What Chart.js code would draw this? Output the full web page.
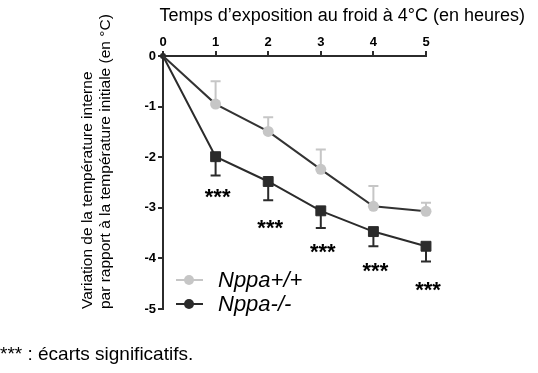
<!DOCTYPE html>
<html>
<head>
<meta charset="utf-8">
<script src="https://cdn.jsdelivr.net/npm/chart.js@4.4.0/dist/chart.umd.min.js"></script>
<style>
html, body { margin: 0; padding: 0; background: #fff; }
#wrap { width: 538px; height: 373px; }
</style>
</head>
<body>
<div id="wrap"><canvas id="chart"></canvas></div>
<script>
var hours = [0, 1, 2, 3, 4, 5]
var wildType = [0, -0.95, -1.49, -2.24, -2.97, -3.07]     // Nppa+/+
var wildTypeErr = [0, 0.45, 0.28, 0.39, 0.40, 0.17]        // barre vers le haut
var knockout = [0, -1.99, -2.48, -3.06, -3.47, -3.76]      // Nppa-/-
var knockoutErr = [0, 0.37, 0.37, 0.34, 0.29, 0.30]        // barre vers le bas
var yTicks = [0, -1, -2, -3, -4, -5]
var starsX = [1, 2, 3, 4, 5]
var starsY = [-2.71, -3.31, -3.79, -4.16, -4.55]
var seriesLabels = ['Nppa+/+', 'Nppa-/-']

var FONT = "Arial, 'Liberation Sans', sans-serif"
var LIGHT = '#c6c6c6'
var DARK = '#2b2b2b'

function toPoints(ys) {
    return hours.map(function (h, i) { return { x: h, y: ys[i] } })
}

// barres d'erreur (un seul côté)
var errorBars = {
    id: 'errorBars',
    beforeDatasetsDraw: function (chart) {
        var ctx = chart.ctx, xs = chart.scales.x, ys = chart.scales.y
        chart.data.datasets.forEach(function (ds) {
            ctx.save()
            ctx.strokeStyle = ds.errorColor
            ctx.lineWidth = 2
            ds.data.forEach(function (p, i) {
                var e = ds.errors[i]
                if (!e) return
                var px = xs.getPixelForValue(p.x)
                var y0 = ys.getPixelForValue(p.y)
                var y1 = ys.getPixelForValue(p.y + ds.errorDir * e)
                ctx.beginPath()
                ctx.moveTo(px, y0)
                ctx.lineTo(px, y1)
                ctx.moveTo(px - 5, y1)
                ctx.lineTo(px + 5, y1)
                ctx.stroke()
            })
            ctx.restore()
        })
    }
}

// *** sous la courbe Nppa-/-
var stars = {
    id: 'stars',
    afterDatasetsDraw: function (chart) {
        var ctx = chart.ctx, xs = chart.scales.x, ys = chart.scales.y
        ctx.save()
        ctx.fillStyle = '#000'
        ctx.font = 'bold 22px ' + FONT
        ctx.textAlign = 'center'
        ctx.textBaseline = 'middle'
        for (var i = 0; i < starsX.length; i++) {
            ctx.fillText('***', xs.getPixelForValue(starsX[i]) + 2, ys.getPixelForValue(starsY[i]) + 5)
        }
        ctx.restore()
    }
}

// légende dans la zone du graphique, en bas à gauche
var innerLegend = {
    id: 'innerLegend',
    afterDraw: function (chart) {
        var ctx = chart.ctx, area = chart.chartArea
        var x0 = area.left + 13
        var rowsY = [area.bottom - 29, area.bottom - 5]
        ctx.save()
        chart.data.datasets.forEach(function (ds, i) {
            var y = rowsY[i]
            ctx.strokeStyle = ds.legendColor
            ctx.fillStyle = ds.legendColor
            ctx.lineWidth = 2
            ctx.beginPath()
            ctx.moveTo(x0, y)
            ctx.lineTo(x0 + 27, y)
            ctx.stroke()
            ctx.beginPath()
            ctx.arc(x0 + 13, y, 5, 0, Math.PI * 2)
            ctx.fill()
            ctx.fillStyle = '#000'
            ctx.font = 'italic 22px ' + FONT
            ctx.textBaseline = 'middle'
            ctx.textAlign = 'left'
            ctx.fillText(ds.label, x0 + 42, y + 1)
        })
        ctx.restore()
    }
}

var config = {
    type: 'line',
    data: {
        datasets: [
            {
                label: seriesLabels[0],
                data: toPoints(wildType),
                errors: wildTypeErr,
                errorDir: 1,
                errorColor: LIGHT,
                legendColor: LIGHT,
                borderColor: '#333',
                borderWidth: 2,
                pointStyle: 'circle',
                pointRadius: function (c) { return c.dataIndex === 0 ? 0 : 5.5 },
                pointBackgroundColor: LIGHT,
                pointBorderColor: LIGHT,
                pointBorderWidth: 0,
                clip: false
            },
            {
                label: seriesLabels[1],
                data: toPoints(knockout),
                errors: knockoutErr,
                errorDir: -1,
                errorColor: DARK,
                legendColor: DARK,
                borderColor: DARK,
                borderWidth: 2,
                pointStyle: 'rect',
                pointRadius: function (c) { return c.dataIndex === 0 ? 3 : 7 },
                pointBackgroundColor: DARK,
                pointBorderColor: DARK,
                pointBorderWidth: 1,
                clip: false
            }
        ]
    },
    options: {
        responsive: true,
        maintainAspectRatio: false,
        animation: false,
        layout: { padding: { left: 0, right: 13, top: 0, bottom: 0 } },
        plugins: {
            legend: { display: false },
            tooltip: { enabled: false },
            title: {
                display: true,
                text: 'Temps d’exposition au froid à 4°C (en heures)',
                align: 'end',
                color: '#000',
                font: { family: FONT, size: 18, weight: 'normal', lineHeight: 1.2 },
                padding: { top: 4.9, bottom: 1.5 }
            },
            subtitle: {
                display: true,
                position: 'bottom',
                align: 'start',
                text: '*** : écarts significatifs.',
                color: '#000',
                font: { family: FONT, size: 19, weight: 'normal', lineHeight: 1.2 },
                padding: { top: 34.6, bottom: 6.6 }
            }
        },
        scales: {
            x: {
                type: 'linear',
                position: 'top',
                min: hours[0],
                max: hours[hours.length - 1],
                afterFit: function (s) { s.height = 28 },
                grid: { display: true, drawOnChartArea: false, drawTicks: true, tickLength: 5, color: DARK, lineWidth: 2 },
                border: { display: true, color: DARK, width: 2 },
                ticks: {
                    stepSize: 1,
                    padding: 1,
                    color: '#000',
                    font: { family: FONT, size: 13, weight: 'bold' }
                }
            },
            y: {
                type: 'linear',
                position: 'left',
                min: yTicks[yTicks.length - 1],
                max: yTicks[0],
                afterFit: function (s) { s.width = 163 },
                afterBuildTicks: function (s) { s.ticks = yTicks.map(function (v) { return { value: v } }) },
                grid: { display: true, drawOnChartArea: false, drawTicks: true, tickLength: 5, color: DARK, lineWidth: 2 },
                border: { display: true, color: DARK, width: 2 },
                ticks: {
                    padding: 2,
                    color: '#000',
                    font: { family: FONT, size: 13, weight: 'bold' }
                },
                title: {
                    display: true,
                    align: 'start',
                    text: ['Variation de la température interne', 'par rapport à la température initiale (en °C)'],
                    color: '#000',
                    font: { family: FONT, size: 15.5, weight: 'normal', lineHeight: 1.16 },
                    padding: { top: 79, bottom: 0 }
                }
            },
            pad: {
                type: 'linear',
                position: 'right',
                display: true,
                afterFit: function (s) { s.width = 99 },
                grid: { display: false },
                border: { display: false },
                ticks: { display: false }
            }
        }
    },
    plugins: [errorBars, stars, innerLegend]
}

new Chart(document.getElementById('chart').getContext('2d'), config)
</script>
</body>
</html>
